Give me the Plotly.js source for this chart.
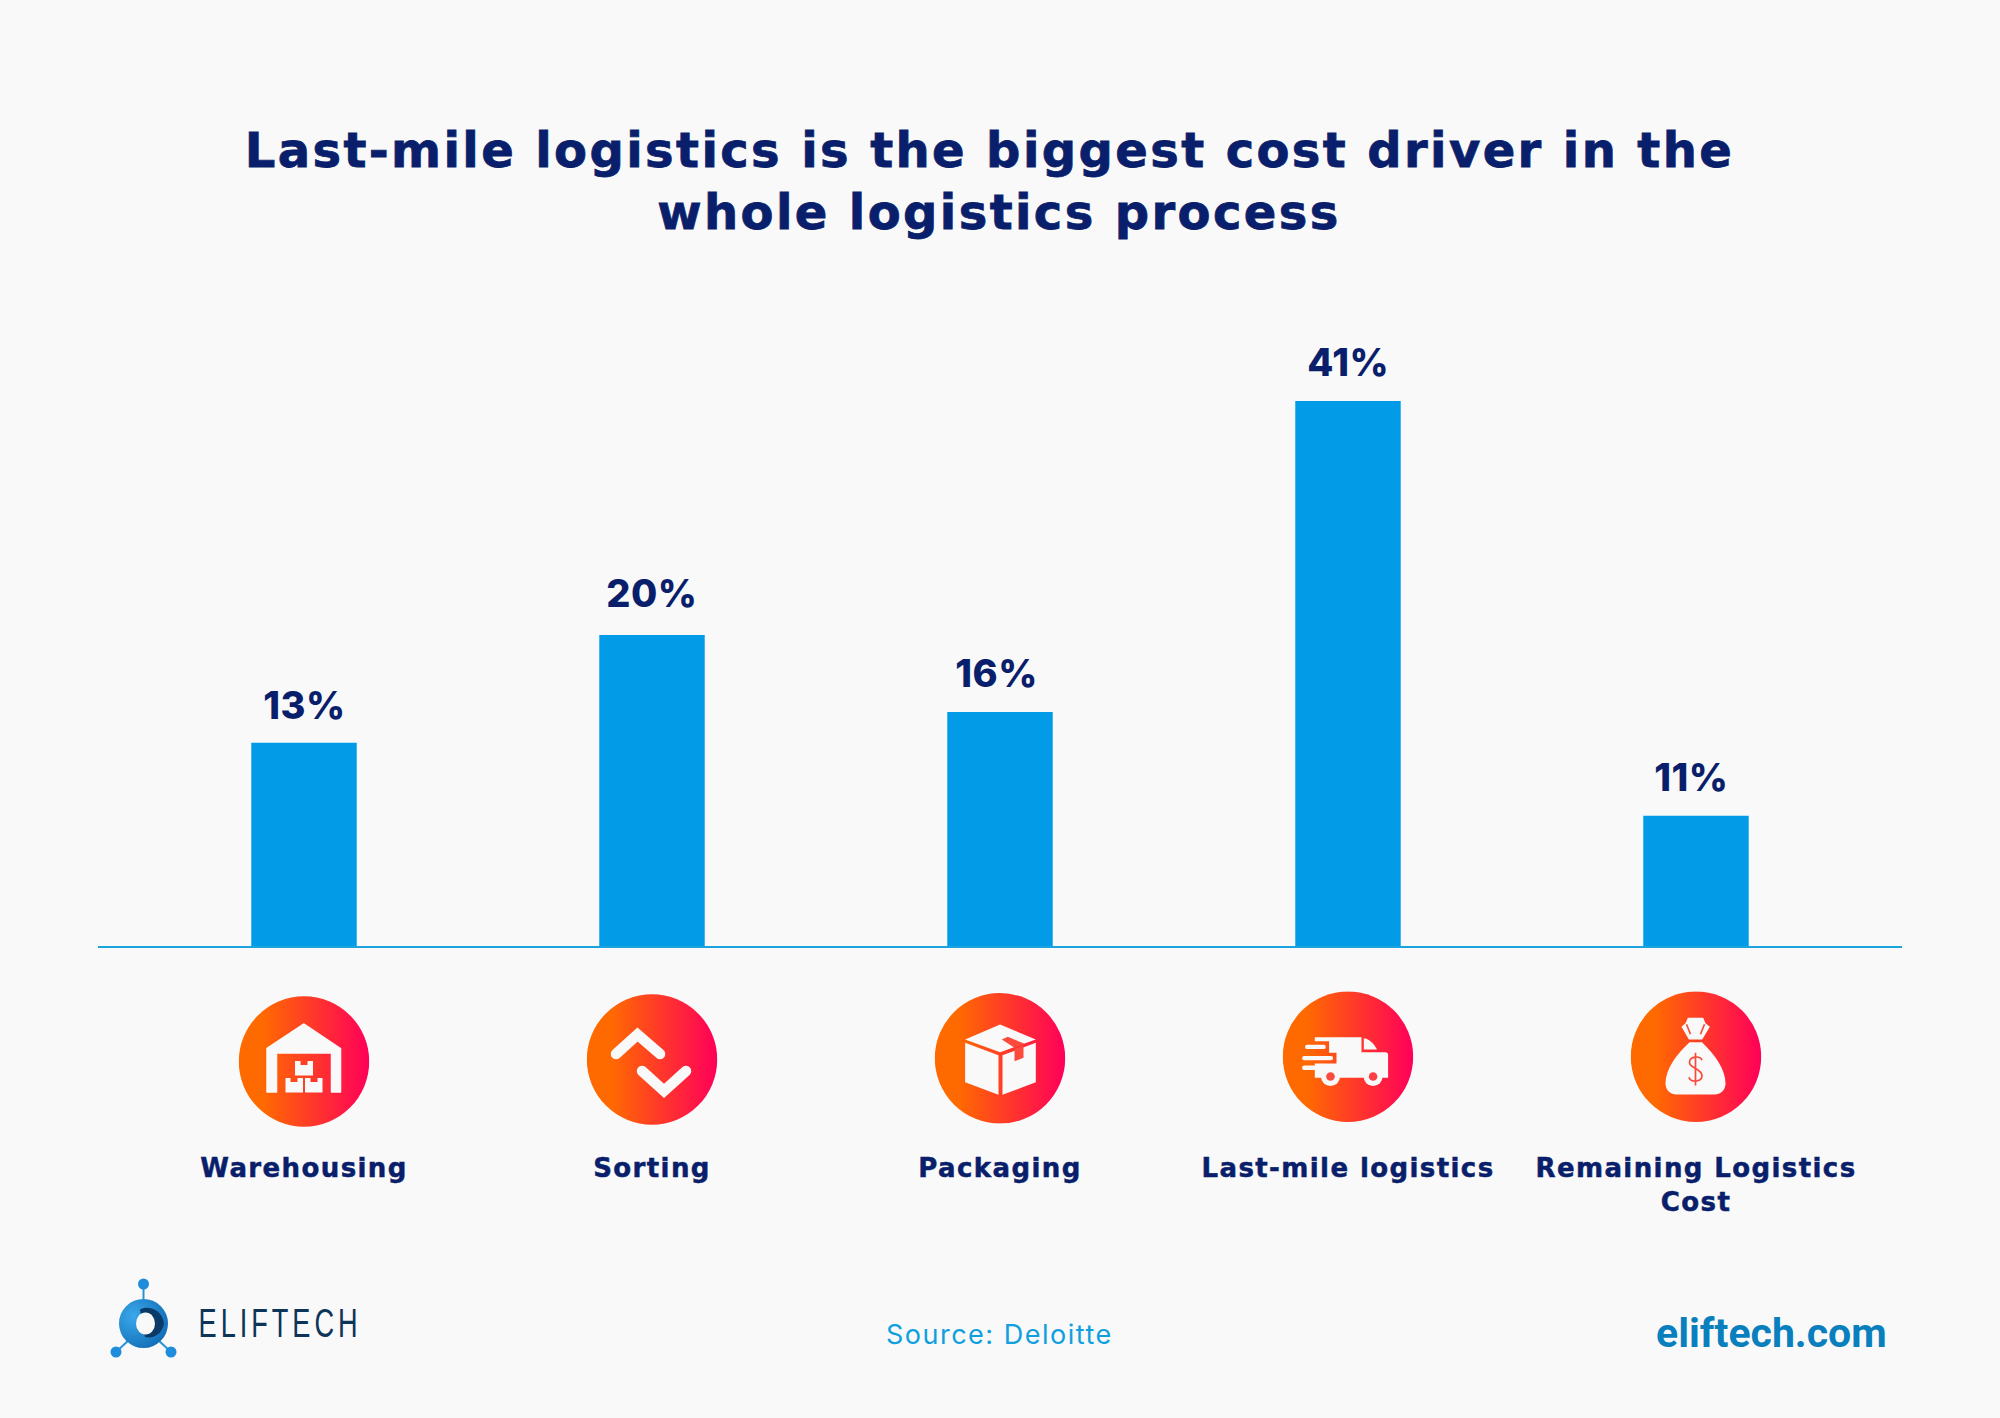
<!DOCTYPE html>
<html>
<head>
<meta charset="utf-8">
<script src="https://cdn.plot.ly/plotly-3.0.1.min.js"></script>
<style>
html,body{margin:0;padding:0;background:#f9f9f9;}
.gtitle{letter-spacing:2.4px;stroke:#0a1f6b;stroke-width:.8px;}
.xtick text{letter-spacing:1.4px;stroke:#0a1f6b;stroke-width:.5px;}
</style>
</head>
<body>
<div id="chart" style="width:2000px;height:1418px;"></div>
<script>
// Categories and printed labels
const categories = ["Warehousing", "Sorting", "Packaging", "Last-mile logistics", "Remaining Logistics<br>Cost"];
const printedPercent = [13, 20, 16, 41, 11];
// Bar heights: the reference does not draw its bars to scale
// (only the 41% bar is at its nominal height on this axis), so the drawn height is read separately.
const barHeights = [15.3, 23.4, 17.6, 41, 9.8];

const titleText = "Last-mile logistics is the biggest cost driver in the\u00A0<br>whole logistics process";
const sourceText = "Source: Deloitte";
const siteText = "eliftech.com";
const brandText = "ELIFTECH";

const NAVY = "#0a1f6b", BLUE = "#019be8", LINE = "#1ba3dd";
const W = 2000, H = 1418, ML = 98, MR = 98, MT = 100, BASE = 946;
const plotW = W - ML - MR, plotH = BASE - MT;
const px = v => (v - ML) / plotW;
const py = v => (BASE - v) / plotH;

const INNER = "#fa4b3c", BG = "#f9f9f9";
const wrap = (body, id) => `<svg xmlns="http://www.w3.org/2000/svg" width="262" height="262" viewBox="0 0 131 131"><defs><linearGradient id="g${id}" x1="0" x2="1" y1="0" y2="0"><stop offset="0.18" stop-color="#ff6a00"/><stop offset="1" stop-color="#ff0059"/></linearGradient></defs><circle cx="65.5" cy="65.5" r="65.2" fill="url(#g${id})"/>${body}</svg>`;

const warehouse = `<path fill="${BG}" stroke="${BG}" stroke-width="1.5" stroke-linejoin="round" d="M65.5 28 L102 52.5 V96 H93 V57 H38 V96 H28.5 V52.5 Z"/>
<g fill="${BG}"><path d="M56.5 65 H62 V69 H69 V65 H74.5 V79.5 H56.5 Z"/><path d="M47 82 H52 V86 H59 V82 H64.5 V96.5 H47 Z"/><path d="M66.5 82 H72 V86 H79 V82 H84 V96.5 H66.5 Z"/></g>`;

const sorting = `<g fill="none" stroke="${BG}" stroke-width="10.5" stroke-linecap="round" stroke-linejoin="miter"><path d="M29.5 60 L51 40.5 L73.5 60"/><path d="M55.5 77 L77.5 97 L99.5 77"/></g>`;

const box = `<g fill="${BG}"><path d="M65.6 31.7 L101.3 46.7 L65.6 59.4 L30.6 46.7 Z"/><path d="M30.6 50 L64 62.4 V102 L30.6 89.4 Z"/><path d="M68 62.4 L101.3 50 V89.4 L68 102 Z"/></g>
<g fill="${INNER}"><path d="M67.3 46.7 L73.3 44 L90 51 L80 55 Z"/><path d="M80 56 L89 52.7 V65 L80 68.4 Z"/></g>`;

const truck = `<g fill="${BG}"><path d="M32.3 46 H79 V61 H103 Q105.6 61 105.6 64 V86.6 H32.3 V72.3 H54 V61.6 H46.6 V50 H32.3 Z"/><path d="M81.3 47.3 H83.5 Q90 50 94.6 58.3 H81.3 Z"/>
<rect x="22.6" y="53.5" width="20.7" height="4.4" rx="2.2"/><rect x="19.6" y="64.7" width="31" height="4.4" rx="2.2"/><rect x="19.6" y="74.3" width="16" height="4.4" rx="2.2"/>
<circle cx="48" cy="85.3" r="9.5"/><circle cx="90.6" cy="85.3" r="9.5"/></g><circle cx="48" cy="85.3" r="4.3" fill="${INNER}"/><circle cx="90.6" cy="85.3" r="4.3" fill="#fb3f45"/>`;

const bag = `<g fill="${BG}"><path d="M57.4 26.6 H72.7 L75 32 L79.4 35.6 L71.7 48.3 H58.4 L51 35.6 L55 32 Z"/>
<path d="M59 51 H71.5 C84 63 95 78 95 92 C95 99 90 103.3 84 103.3 H46 C40 103.3 35 99 35 92 C35 78 46 63 59 51 Z"/></g>
<g fill="none" stroke="${INNER}" stroke-width="1.7"><path d="M56 33 L60 43"/><path d="M74 33 L70 43"/><path d="M71.5 69 C70 64.5 59.5 64.5 59 71 C58.5 77 71.5 77 71.5 84.5 C71.5 91 60 91.5 58.5 86"/><path d="M65 61.6 V94.3"/></g>`;

const logo = `<svg xmlns="http://www.w3.org/2000/svg" width="320" height="336" viewBox="0 0 80 84"><defs><radialGradient id="lg" cx="0.3" cy="0.35" r="0.85"><stop offset="0" stop-color="#3aa8ea"/><stop offset="1" stop-color="#0d66b0"/></radialGradient></defs>
<g stroke="#2a93d8" stroke-width="2"><line x1="39.5" y1="8" x2="39.5" y2="25"/><line x1="12" y1="76" x2="26" y2="63"/><line x1="67" y1="76" x2="53" y2="63"/></g>
<g fill="#1f8ddb"><circle cx="39.5" cy="8" r="5.5"/><circle cx="12" cy="76" r="5.5"/><circle cx="67" cy="76" r="5.5"/></g>
<circle cx="39.5" cy="47.5" r="24.5" fill="url(#lg)"/><path d="M36 33.5 C44 29 58 33 60 47.5 C58 59 48 63 41 61 Z" fill="#0b3a68"/><ellipse cx="41.5" cy="47.5" rx="9.5" ry="11" fill="${BG}"/></svg>`;

const uri = s => "data:image/svg+xml;charset=utf-8," + encodeURIComponent(s);
const iconBodies = [warehouse, sorting, box, truck, bag];
const iconCenterY = [1061.5, 1059.5, 1058.3, 1056.7, 1056.7];
const labelShiftX = [0, 0, -4, 0, -4];
const labelShiftY = [-1, 3, 0, 0, 0];

const images = iconBodies.map((b, i) => ({
  source: uri(wrap(b, i)), xref: "x", yref: "paper", x: i, y: py(iconCenterY[i]),
  sizex: 131 / 348, sizey: 131 / plotH, xanchor: "center", yanchor: "middle",
  sizing: "contain", layer: "above"
}));
images.push({
  source: uri(logo), xref: "paper", yref: "paper", x: px(104), y: py(1276),
  sizex: 80 / plotW, sizey: 84 / plotH, xanchor: "left", yanchor: "top", sizing: "contain", layer: "above"
});

const BOLD = "'DejaVu Sans', sans-serif";
const valueAnn = categories.map((c, i) => ({
  xref: "x", yref: "y", x: i, y: barHeights[i], text: printedPercent[i] + "%",
  showarrow: false, xanchor: "center", yanchor: "middle", xshift: labelShiftX[i], yshift: 39 + labelShiftY[i],
  font: {family: "Inter, sans-serif", size: 38, weight: 800, color: NAVY}
}));
const footAnn = [
  {xref: "paper", yref: "paper", x: px(999), y: py(1334), text: sourceText, showarrow: false, xanchor: "center", yanchor: "middle",
   font: {family: "Inter, sans-serif", size: 27, weight: 400, color: "#0f9fdf"}},
  {xref: "paper", yref: "paper", x: px(1771), y: py(1333), text: siteText, showarrow: false, xanchor: "center", yanchor: "middle",
   font: {family: "Roboto, sans-serif", size: 41, weight: 700, color: "#0a7fbd"}},
  {xref: "paper", yref: "paper", x: px(279.5), y: py(1323), text: brandText, showarrow: false, xanchor: "center", yanchor: "middle",
   font: {family: "'Liberation Sans', sans-serif", size: 41, weight: 400, color: "#0c3558"}}
];

const trace = {
  type: "bar", x: categories, y: barHeights, width: 0.303,
  marker: {color: BLUE, line: {width: 0}}, hoverinfo: "skip", showlegend: false, cliponaxis: false
};

const layout = {
  width: W, height: H, autosize: false,
  paper_bgcolor: BG, plot_bgcolor: BG,
  margin: {l: ML, r: MR, t: MT, b: H - BASE, pad: 0},
  title: {text: titleText, xref: "paper", x: px(999), xanchor: "center", yref: "container", y: 1 - 167 / H, yanchor: "middle",
    font: {family: BOLD, size: 48, weight: 700, color: NAVY}},
  showlegend: false,
  xaxis: {type: "category", categoryorder: "array", categoryarray: categories, range: [-0.592, 4.592], showgrid: false, zeroline: false,
    showline: true, linecolor: LINE, linewidth: 2, ticks: "", ticklabelstandoff: 198,
    tickfont: {family: BOLD, size: 26, weight: 700, color: NAVY}, automargin: false},
  yaxis: {range: [0, plotH / 13.29], visible: false, fixedrange: true},
  images: images,
  annotations: valueAnn.concat(footAnn)
};

Plotly.newPlot("chart", [trace], layout, {displayModeBar: false, staticPlot: true}).then(() => {
  document.querySelectorAll(".annotation-text").forEach(t => {
    if (t.textContent === brandText) {
      t.style.letterSpacing = "6px";
      t.setAttribute("textLength", "163");
      t.setAttribute("lengthAdjust", "spacingAndGlyphs");
    }
    if (t.textContent === sourceText) t.style.letterSpacing = "1.5px";
    if (/%$/.test(t.textContent)) t.style.letterSpacing = ".5px";
  });
});
</script>
</body>
</html>
